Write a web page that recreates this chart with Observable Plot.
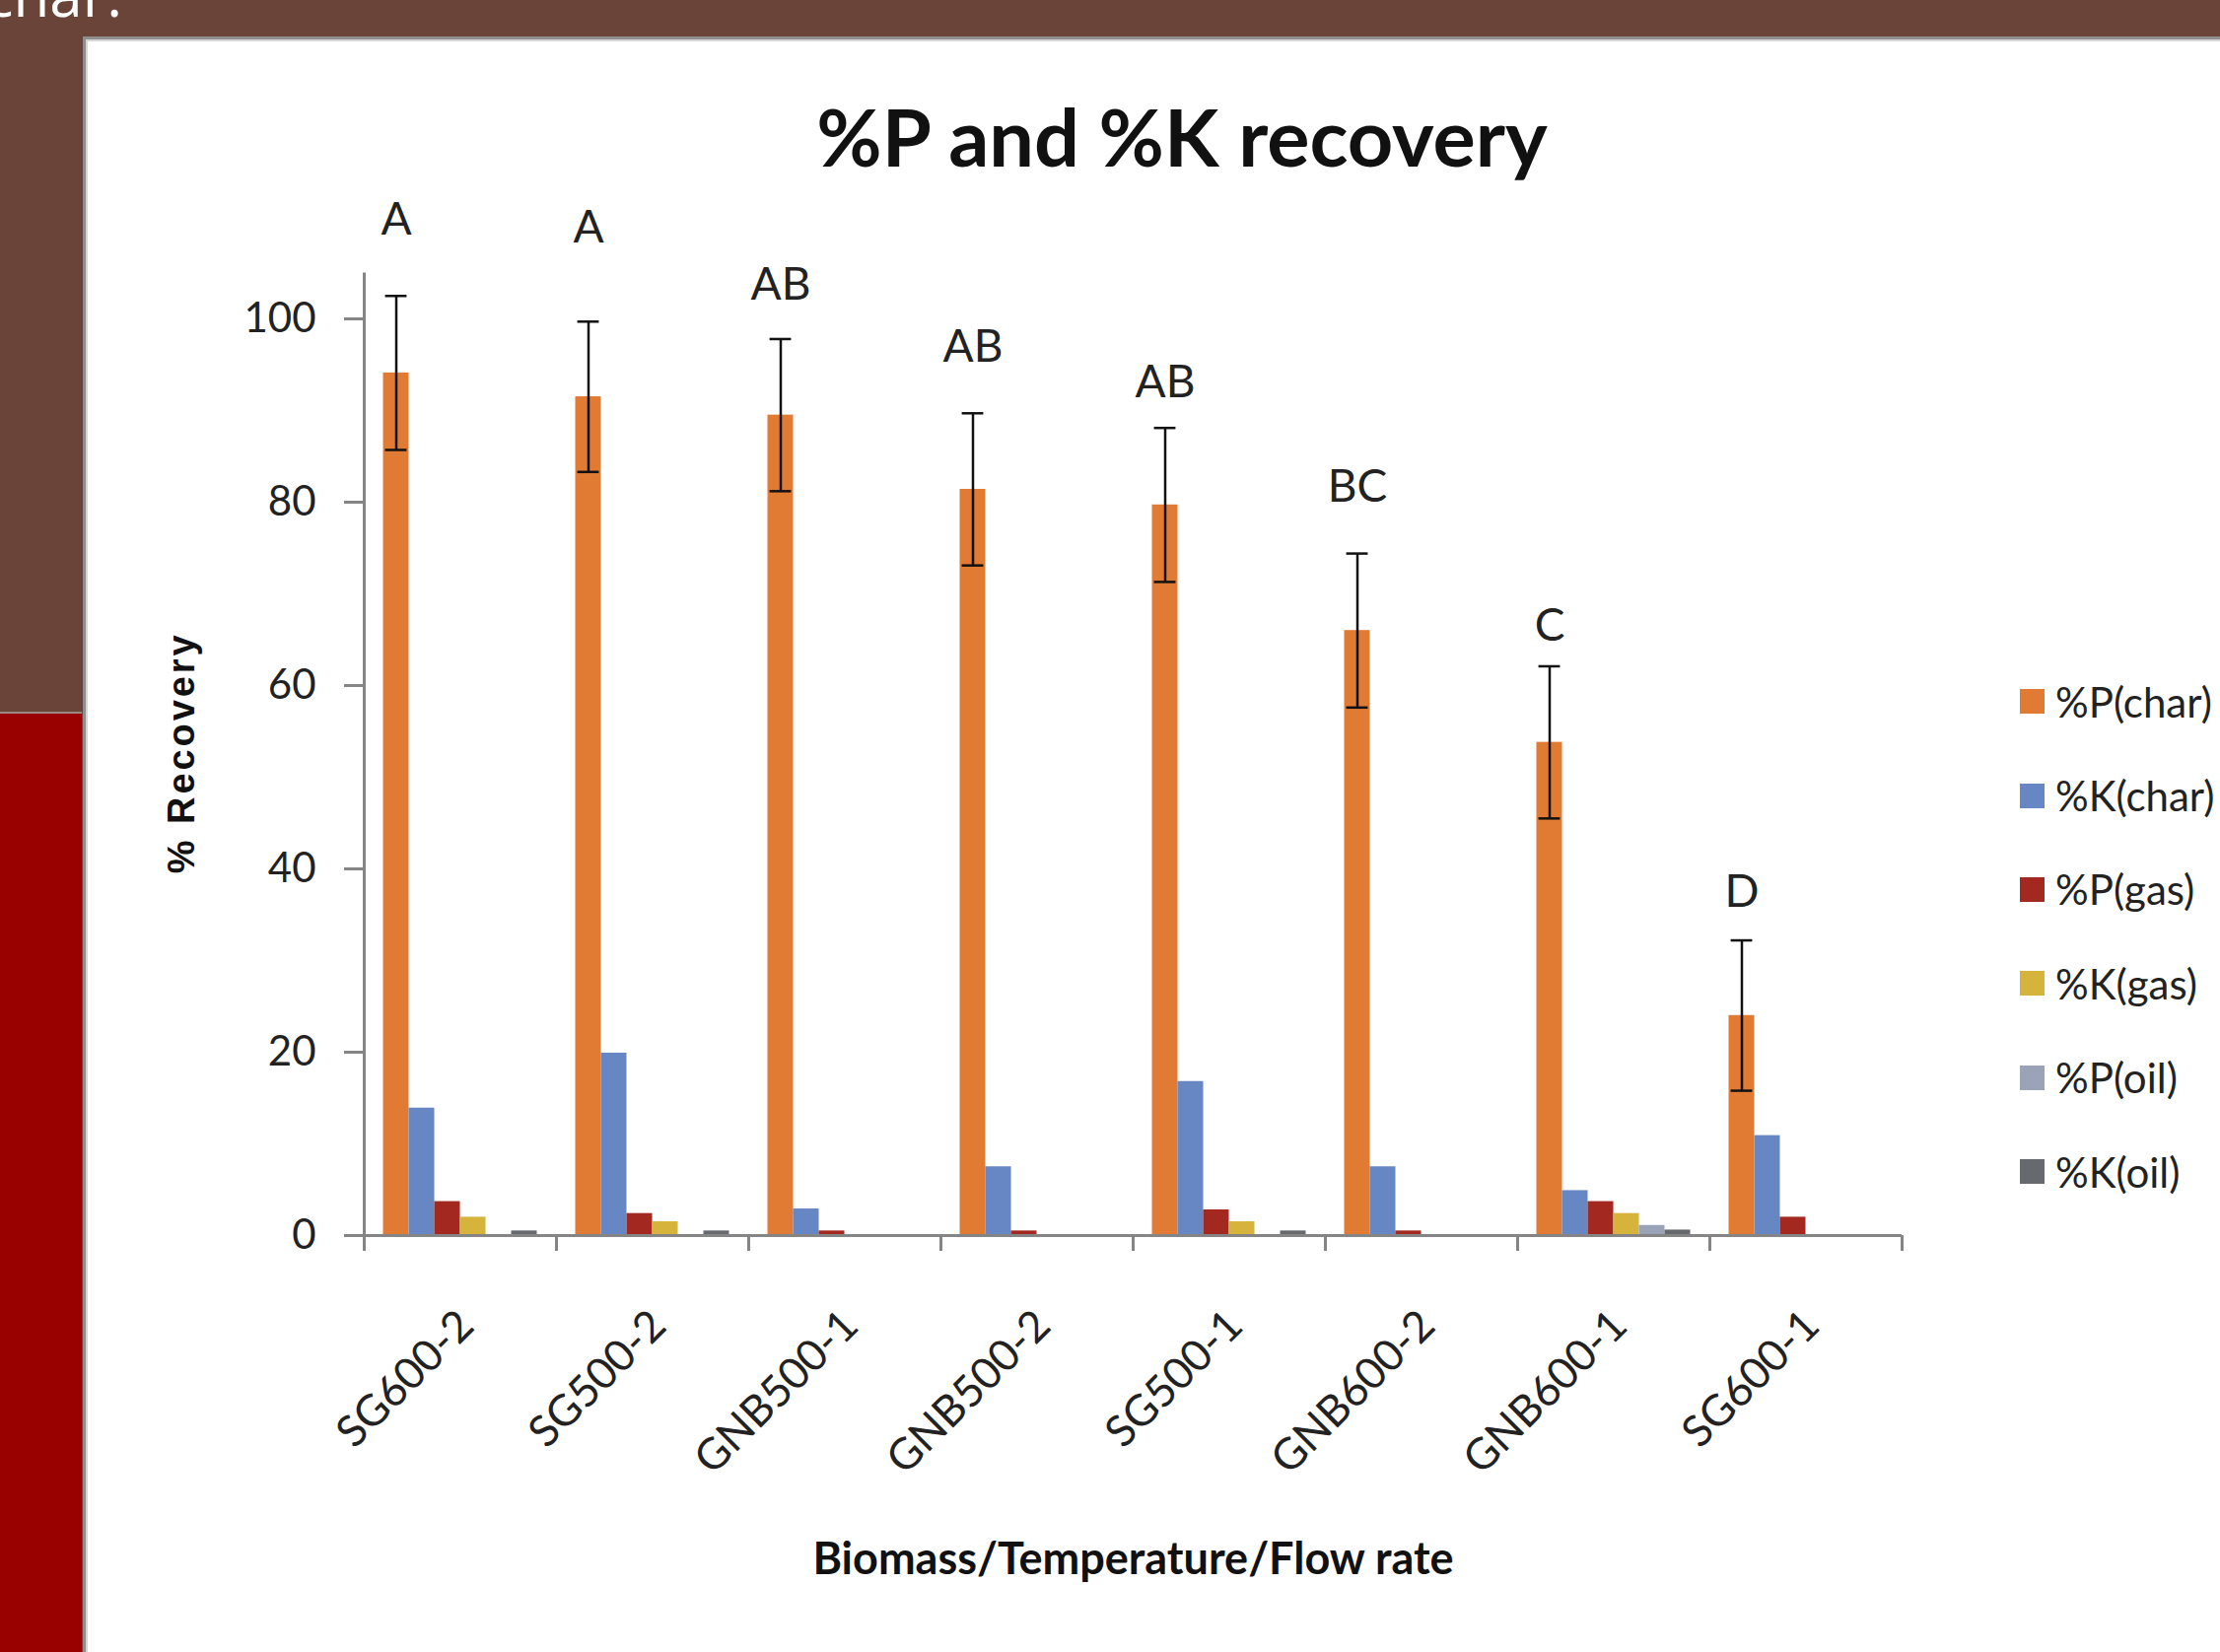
<!DOCTYPE html>
<html>
<head>
<meta charset="utf-8">
<script src="https://cdn.jsdelivr.net/npm/d3@7"></script>
<script src="https://cdn.jsdelivr.net/npm/@observablehq/plot@0.6"></script>
<style>
  html, body { margin: 0; padding: 0; }
  body { width: 2252px; height: 1676px; overflow: hidden; position: relative; background: #6B4439; font-family: Lato, "Open Sans", sans-serif; }
  #leftpanel { position: absolute; left: 0; top: 722px; width: 83px; height: 960px; background: #990000; border-top: 2px solid #9c8a80; }
  #slidetext { position: absolute; left: 0; top: 0; }
  #frame { position: absolute; left: 84px; top: 37px; width: 2200px; height: 1700px; background: #fff; border: 3px solid #8f8f8f; box-shadow: inset 0 0 0 2px #d6d6d6; }
  #chart { position: absolute; left: 86px; top: 40px; width: 2166px; height: 1636px; }
  #chart svg { max-width: none !important; }
  #title { position: absolute; left: 599px; width: 1200px; top: 97px; text-align: center; font: 700 81px/1 Lato, sans-serif; color: #111; white-space: nowrap; }
  #legend { position: absolute; left: 2049px; top: 664px; width: 400px; }
  #legend .lg-swatches { font-family: Lato, sans-serif !important; font-size: 42px !important; color: #222 !important; margin: 0 !important; columns: auto !important; }
  #legend .lg-swatch { height: 95.4px !important; display: flex !important; align-items: center !important; padding: 0 !important; margin: 0 !important; white-space: nowrap; }
  #legend .lg-swatch > svg { margin-right: 11px !important; }
</style>
</head>
<body>
<div id="leftpanel"></div>
<svg id="slidetext" width="300" height="40"><text x="124" y="17" text-anchor="end" font-family="Open Sans, sans-serif" font-size="60" fill="#ffffff">char.</text></svg>
<div id="frame"></div>
<div id="chart"></div>
<div id="title">%P and %K recovery</div>
<div id="legend"></div>
<script>
// ---------------- data ----------------
const categories = ["SG600-2", "SG500-2", "GNB500-1", "GNB500-2", "SG500-1", "GNB600-2", "GNB600-1", "SG600-1"];
const series = ["%P(char)", "%K(char)", "%P(gas)", "%K(gas)", "%P(oil)", "%K(oil)"];
const colors = ["#E17B34", "#6787C4", "#A3281F", "#D6B43C", "#9AA3B8", "#66696E"];
const pChar = [94.1, 91.5, 89.5, 81.4, 79.7, 66.0, 53.8, 24.0];
const kChar = [13.9, 19.9, 2.9, 7.5, 16.8, 7.5, 4.9, 10.9];
const pGas  = [3.7, 2.4, 0.5, 0.5, 2.8, 0.5, 3.7, 2.0];
const kGas  = [2.0, 1.5, 0, 0, 1.5, 0, 2.4, 0];
const pOil  = [0, 0, 0, 0, 0, 0, 1.1, 0];
const kOil  = [0.5, 0.5, 0, 0, 0.5, 0, 0.6, 0];
const pCharErr = [8.4, 8.2, 8.3, 8.3, 8.4, 8.4, 8.3, 8.2];
const letters = ["A", "A", "AB", "AB", "AB", "BC", "C", "D"];
const letterY = [110.8, 109.9, 103.7, 96.9, 93.0, 81.6, 66.5, 37.4];
const yTicks = [0, 20, 40, 60, 80, 100];
const yMax = 105;
const title = "%P and %K recovery";
const xTitle = "Biomass/Temperature/Flow rate";
const yTitle = "% Recovery";

// ---------------- layout of grouped bars (Excel gap width 150%) ----------------
const seriesValues = [pChar, kChar, pGas, kGas, pOil, kOil];
const nS = series.length;
const barFrac = 1 / (nS + 1.5);
const gapFrac = (1 - nS * barFrac) / 2;
const capHalf = 0.056;

const bars = categories.flatMap((c, i) => series.map((s, j) => ({
  category: c, series: s, value: seriesValues[j][i],
  x1: i + gapFrac + j * barFrac, x2: i + gapFrac + (j + 1) * barFrac
})));
const charP = categories.map((c, i) => {
  const xc = i + gapFrac + barFrac / 2;
  return {category: c, xc, c1: xc - capHalf, c2: xc + capHalf,
    lo: pChar[i] - pCharErr[i], hi: pChar[i] + pCharErr[i],
    letter: letters[i], ly: letterY[i]};
});
const boundaries = d3.range(categories.length + 1);
const centers = categories.map((c, i) => i + 0.5);

const axisColor = "#858585";
const textColor = "#222";

const chart = Plot.plot({
  width: 2166,
  height: 1636,
  marginLeft: 283,
  marginRight: 323,
  marginTop: 236.5,
  marginBottom: 423,
  style: {background: "transparent", fontFamily: "Lato, sans-serif", fontSize: "42px", color: textColor, overflow: "visible"},
  x: {domain: [0, categories.length], label: null},
  y: {domain: [0, yMax], label: null},
  color: {domain: series, range: colors},
  marks: [
    Plot.rect(bars, {x1: "x1", x2: "x2", y1: 0, y2: "value", fill: "series"}),
    Plot.ruleX(charP, {x: "xc", y1: "lo", y2: "hi", stroke: "#111", strokeWidth: 2.5}),
    Plot.ruleY(charP, {y: "hi", x1: "c1", x2: "c2", stroke: "#111", strokeWidth: 2.5}),
    Plot.ruleY(charP, {y: "lo", x1: "c1", x2: "c2", stroke: "#111", strokeWidth: 2.5}),
    Plot.text(charP, {x: "xc", y: "ly", text: "letter", fontSize: 46, lineAnchor: "middle", fill: textColor}),
    Plot.axisY({ticks: yTicks, tickSize: 20, tickPadding: 29, stroke: axisColor, strokeWidth: 3, fill: textColor, fontSize: 42,
      label: yTitle, labelAnchor: "center", labelOffset: 199, labelArrow: false}),
    Plot.axisX({ticks: boundaries, tickSize: 16, tickFormat: () => "", stroke: axisColor, strokeWidth: 3, label: null}),
    Plot.axisX({ticks: centers, tickSize: 0, tickFormat: (d) => categories[Math.round(d - 0.5)], tickRotate: -45,
      tickPadding: 84, dx: 6, fill: textColor, fontSize: 44,
      label: xTitle, labelAnchor: "center", labelOffset: 343, labelArrow: false}),
    Plot.ruleX([0], {stroke: axisColor, strokeWidth: 3}),
    Plot.ruleY([0], {stroke: axisColor, strokeWidth: 3})
  ]
});
document.getElementById("chart").append(chart);

// style the axis titles
for (const t of chart.querySelectorAll("text")) {
  const s = t.textContent.replace(/[↑↓←→]/g, "").trim();
  if (s === yTitle) {
    t.textContent = yTitle;
    t.style.fontFamily = '"Liberation Sans Narrow", "Liberation Sans", Arial, sans-serif';
    t.style.fontWeight = "700";
    t.style.fontSize = "38px";
    t.style.fill = "#111";
    t.setAttribute("textLength", "242");
    t.setAttribute("lengthAdjust", "spacing");
  } else if (s === xTitle) {
    t.textContent = xTitle;
    t.style.fontWeight = "700";
    t.style.fontSize = "45px";
    t.style.fill = "#111";
  }
}

// legend
const legend = Plot.legend({
  color: {type: "ordinal", domain: series, range: colors},
  legend: "swatches", columns: 1, swatchSize: 25, className: "lg"
});
document.getElementById("legend").append(legend);
</script>
</body>
</html>
